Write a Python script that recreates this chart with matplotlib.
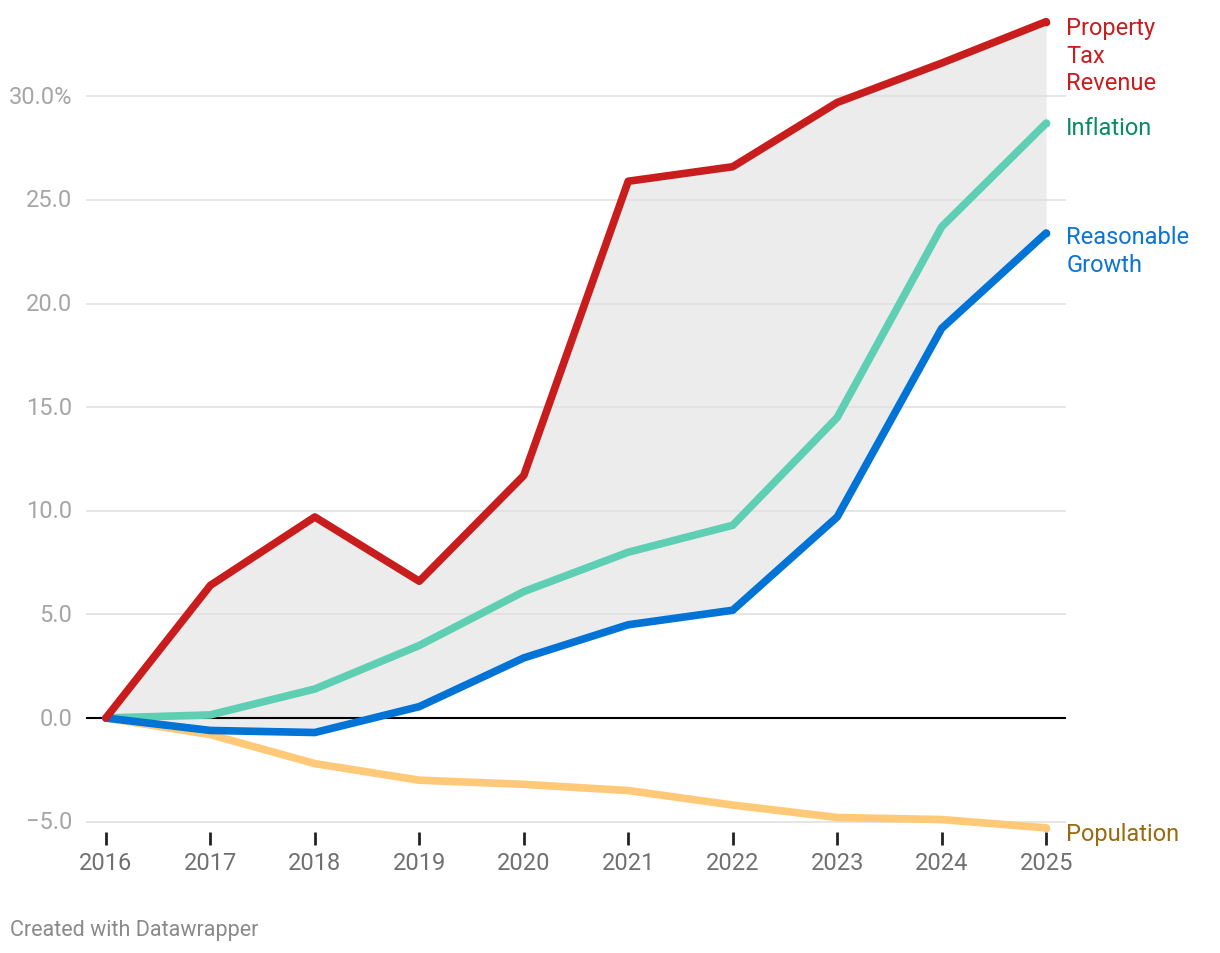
import matplotlib
matplotlib.use("Agg")
import matplotlib.pyplot as plt

plt.rcParams['font.family'] = ['Roboto', 'DejaVu Sans']

years = [2016, 2017, 2018, 2019, 2020, 2021, 2022, 2023, 2024, 2025]
property_tax = [0, 6.4, 9.7, 6.6, 11.7, 25.9, 26.6, 29.7, 31.6, 33.6]
inflation = [0, 0.15, 1.4, 3.5, 6.1, 8.0, 9.3, 14.5, 23.7, 28.7]
reasonable = [0, -0.6, -0.7, 0.55, 2.9, 4.5, 5.2, 9.7, 18.8, 23.4]
population = [0, -0.8, -2.2, -3.0, -3.2, -3.5, -4.2, -4.8, -4.9, -5.3]

yticks = [-5, 0, 5, 10, 15, 20, 25, 30]
ytick_labels = ["\u22125.0", "0.0", "5.0", "10.0", "15.0", "20.0", "25.0", "30.0%"]

W, H = 1220, 954
fig = plt.figure(figsize=(W / 100, H / 100), dpi=100)
ax = fig.add_axes([86 / W, 121 / H, 980 / W, 829 / H])
ax.set_xlim(2015.81, 2025.19)
ax.set_ylim(-5.5, 34.5)

for s in ax.spines.values():
    s.set_visible(False)

ax.fill_between(years, reasonable, property_tax, color="#ececec", lw=0, zorder=1)

for yv in yticks:
    if yv == 0:
        ax.axhline(0, color="#000000", lw=1.5, zorder=2)
    else:
        ax.axhline(yv, color="#e0e0e0", lw=1.2, zorder=1.5)

ax.set_yticks(yticks)
ax.set_yticklabels(ytick_labels)
ax.tick_params(axis="y", length=0, pad=10, labelsize=17, labelcolor="#a6a6a6")
ax.set_xticks(years)
ax.set_xticklabels([str(y) for y in years])
ax.tick_params(axis="x", length=9, width=2, color="#222222", pad=5,
               labelsize=17, labelcolor="#707070", direction="out")
for lab in ax.get_yticklabels():
    lab.set_verticalalignment("center")

series = [
    (population, "#ffc978"),
    (inflation, "#5ecfb3"),
    (reasonable, "#0073d6"),
    (property_tax, "#c91d1d"),
]
for i, (vals, col) in enumerate(series):
    ax.plot(years, vals, color=col, lw=5.5, solid_capstyle="round",
            solid_joinstyle="round", zorder=3 + i, clip_on=False)
    ax.plot([years[-1]], [vals[-1]], "o", color=col, ms=5.5, mew=0, zorder=3 + i, clip_on=False)

lab_x = 2025 + 20 / 104.4
ax.text(lab_x, 31.98, "Property\nTax\nRevenue", color="#c91d1d", fontsize=17,
        va="center", ha="left", linespacing=1.26)
ax.text(lab_x, 28.5, "Inflation", color="#0b8a66", fontsize=17, va="center", ha="left")
ax.text(lab_x, 22.55, "Reasonable\nGrowth", color="#0b74d6", fontsize=17, va="center",
        ha="left", linespacing=1.26)
ax.text(lab_x, -5.55, "Population", color="#9a6a10", fontsize=17, va="center", ha="left")

fig.text(10 / W, 1 - 931 / H, "Created with Datawrapper", color="#8a8a8a",
         fontsize=15.5, va="center", ha="left")

fig.savefig("out.png", dpi=100)
